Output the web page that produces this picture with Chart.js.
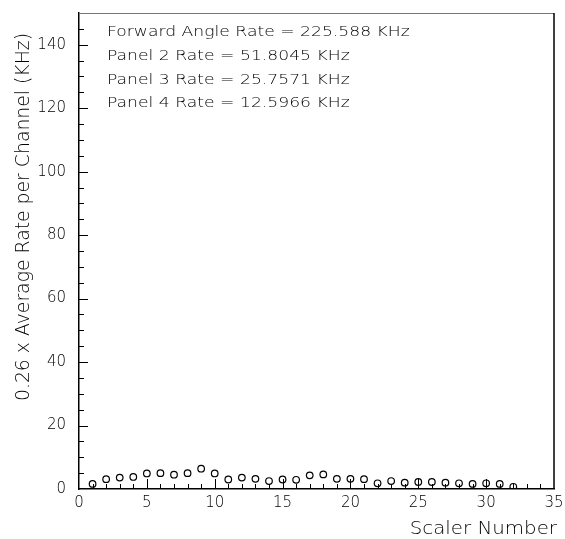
<!DOCTYPE html>
<html>
<head>
<meta charset="utf-8">
<script src="https://cdn.jsdelivr.net/npm/chart.js@4.4.1/dist/chart.umd.min.js"></script>
<style>
  html, body { margin: 0; padding: 0; background: #fff; }
  #wrap { width: 565px; height: 539px; }
</style>
</head>
<body>
<div id="wrap"><canvas id="rates" width="565" height="539"></canvas></div>
<script>
// scaler channels and their averaged rates (KHz)
const scalers = [1, 2, 3, 4, 5, 6, 7, 8, 9, 10, 11, 12, 13, 14, 15, 16,
  17, 18, 19, 20, 21, 22, 23, 24, 25, 26, 27, 28, 29, 30, 31, 32];
const rates = [1.6, 3.1, 3.6, 3.8, 4.9, 5.0, 4.5, 5.0, 6.4, 4.9, 3.0, 3.6, 3.2, 2.5, 3.0, 2.9,
  4.3, 4.6, 3.2, 3.2, 3.1, 1.8, 2.5, 2.0, 2.2, 2.2, 2.0, 1.8, 1.6, 1.8, 1.6, 0.7];

const summaryLines = [
  'Forward Angle Rate = 225.588 KHz',
  'Panel 2 Rate = 51.8045 KHz',
  'Panel 3 Rate = 25.7571 KHz',
  'Panel 4 Rate = 12.5966 KHz'
];

const xTitle = 'Scaler Number';
const yTitle = '0.26 x Average Rate per Channel (KHz)';

const FONT = '"DejaVu Sans", sans-serif';
const INK = '#000';

// draw text a little wider than the font's natural width
function wideText(ctx, s, x, y, stretch) {
  ctx.save();
  ctx.translate(x, y);
  ctx.scale(stretch, 1);
  ctx.fillText(s, 0, 0);
  ctx.restore();
}

// inward ticks, frame, titles and rate summary
const decorations = {
  id: 'decorations',
  afterDraw(chart) {
    const { ctx, chartArea: a, scales: { x, y } } = chart;
    ctx.save();
    ctx.strokeStyle = '#000';
    ctx.lineWidth = 1;

    // x ticks: every channel, longer every 5
    for (let v = 1; v < 35; v++) {
      const px = Math.round(x.getPixelForValue(v)) + 0.5;
      const len = v % 5 === 0 ? 10 : 5;
      ctx.beginPath();
      ctx.moveTo(px, a.bottom);
      ctx.lineTo(px, a.bottom - len);
      ctx.stroke();
    }
    // y ticks: every 5, longer every 20
    for (let v = 5; v <= 150; v += 5) {
      const py = Math.round(y.getPixelForValue(v)) + 0.5;
      const len = v % 20 === 0 ? 9 : 5;
      ctx.beginPath();
      ctx.moveTo(a.left, py);
      ctx.lineTo(a.left + len, py);
      ctx.stroke();
    }

    // top and right edges of the frame
    ctx.strokeStyle = '#777';
    ctx.beginPath();
    ctx.moveTo(a.left, a.top + 0.5);
    ctx.lineTo(a.right, a.top + 0.5);
    ctx.stroke();
    ctx.strokeStyle = '#000';
    ctx.lineWidth = 1.5;
    ctx.beginPath();
    ctx.moveTo(a.right, a.top);
    ctx.lineTo(a.right, a.bottom);
    ctx.stroke();

    ctx.fillStyle = INK;
    ctx.font = '200 14.7px ' + FONT;
    ctx.textAlign = 'left';
    ctx.textBaseline = 'alphabetic';
    summaryLines.forEach((s, i) => {
      wideText(ctx, s, 107, 36 + i * 23.8, 1.17);
    });

    ctx.font = '200 18px ' + FONT;
    ctx.textAlign = 'right';
    wideText(ctx, xTitle, a.right + 3, 534, 1.1);

    ctx.save();
    ctx.translate(29, 217);
    ctx.rotate(-Math.PI / 2);
    ctx.textAlign = 'center';
    ctx.font = '200 19px ' + FONT;
    wideText(ctx, yTitle, 0, 0, 0.99);
    ctx.restore();

    ctx.restore();
  }
};

new Chart(document.getElementById('rates'), {
  type: 'scatter',
  data: {
    datasets: [{
      label: 'rate',
      data: scalers.map((s, i) => ({ x: s, y: rates[i] })),
      pointStyle: 'circle',
      pointRadius: 3.3,
      pointHoverRadius: 3.3,
      borderColor: '#000',
      backgroundColor: 'rgba(255,255,255,0)',
      borderWidth: 1.2
    }]
  },
  options: {
    responsive: false,
    animation: false,
    events: [],
    layout: { padding: { left: 0, right: 11, top: 13, bottom: 0 } },
    plugins: {
      legend: { display: false },
      tooltip: { enabled: false },
      title: { display: false }
    },
    scales: {
      x: {
        type: 'linear',
        min: 0,
        max: 35,
        grid: { display: false, drawTicks: false },
        border: { display: true, color: '#000', width: 1.5 },
        ticks: {
          stepSize: 5,
          padding: 5,
          color: INK,
          font: { family: FONT, size: 15, weight: 200 }
        },
        afterFit(scale) {
          scale.height = 50;
          scale.paddingLeft = 0;
          scale.paddingRight = 0;
        }
      },
      y: {
        min: 0,
        max: 150,
        grid: { display: false, drawTicks: false },
        border: { display: true, color: '#000', width: 1.5 },
        ticks: {
          stepSize: 20,
          padding: 13,
          color: INK,
          font: { family: FONT, size: 15, weight: 200 },
          callback: v => (v % 20 === 0 && v <= 140 ? v : '')
        },
        afterFit(scale) {
          scale.width = 79;
          scale.paddingTop = 0;
          scale.paddingBottom = 0;
        }
      }
    }
  },
  plugins: [decorations]
});
</script>
</body>
</html>
